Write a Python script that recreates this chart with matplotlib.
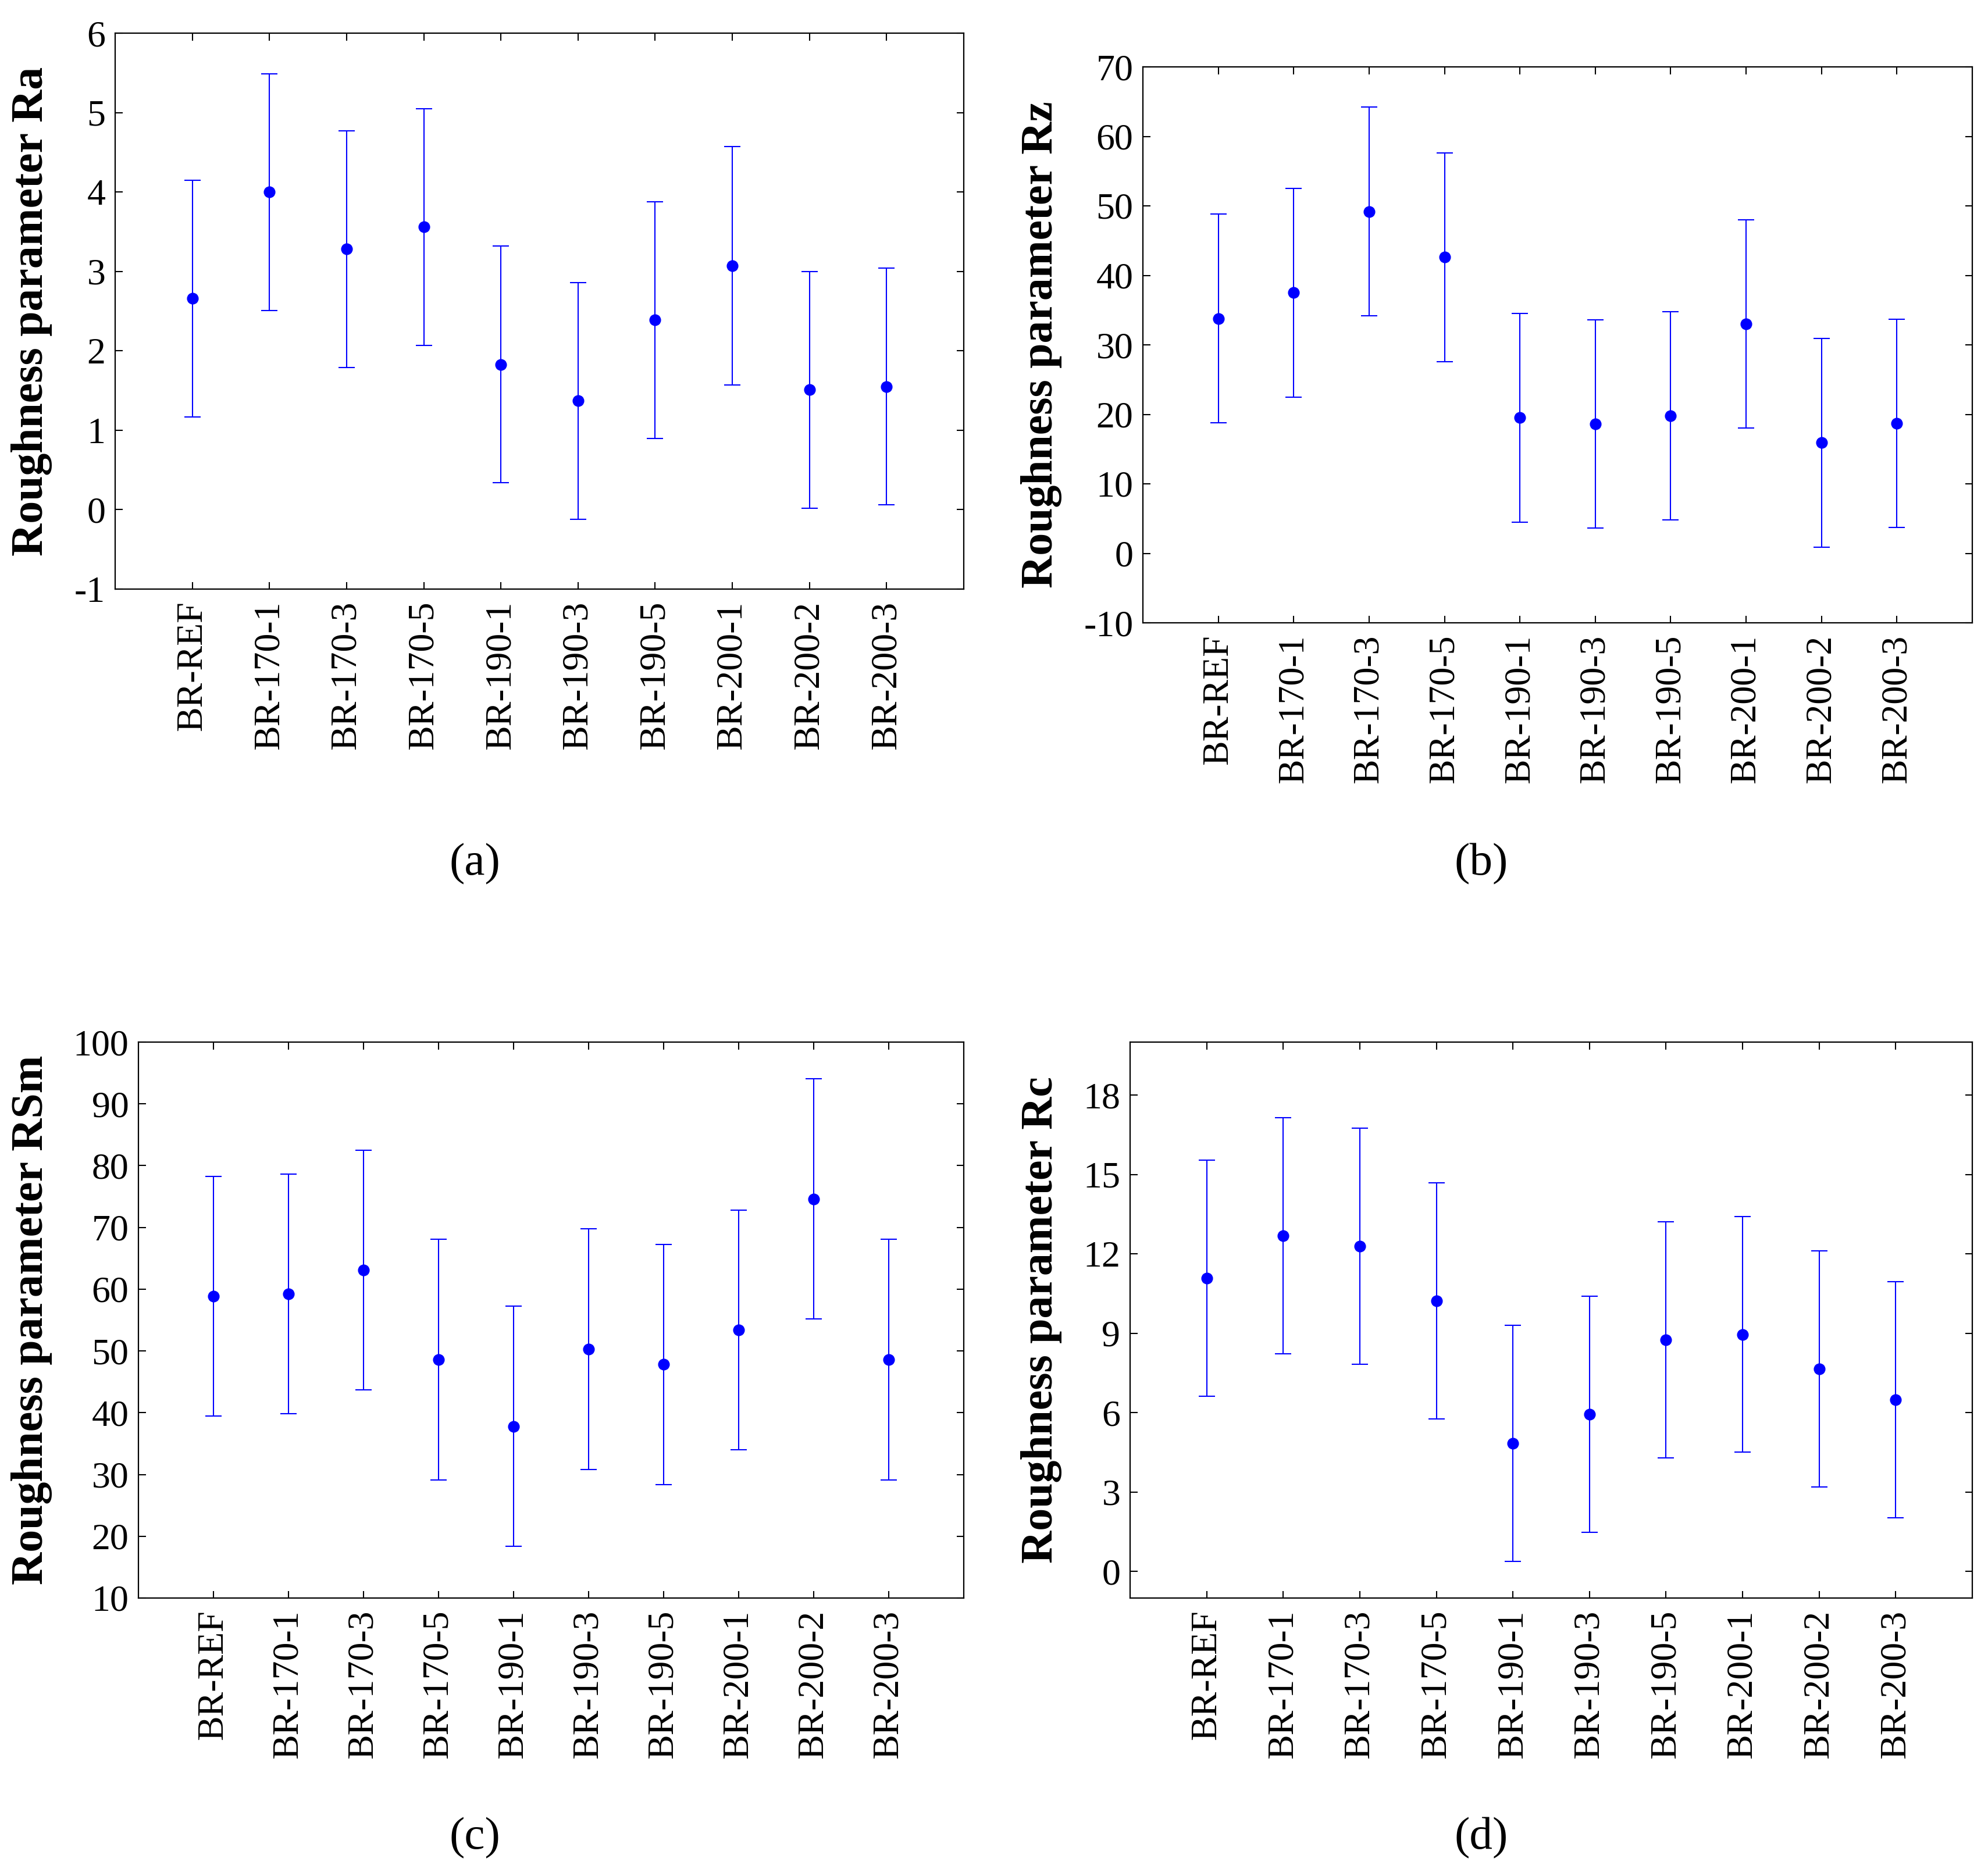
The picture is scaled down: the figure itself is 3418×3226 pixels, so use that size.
import matplotlib
matplotlib.use("Agg")
import matplotlib.pyplot as plt
import numpy as np

plt.rcParams['font.family'] = ['Liberation Serif', 'DejaVu Serif']
plt.rcParams['axes.unicode_minus'] = False

samples = ["BR-REF", "BR-170-1", "BR-170-3", "BR-170-5", "BR-190-1",
           "BR-190-3", "BR-190-5", "BR-200-1", "BR-200-2", "BR-200-3"]

# Ra
ra_mean = [2.66, 4.00, 3.28, 3.56, 1.83, 1.37, 2.39, 3.07, 1.51, 1.55]
ra_err = [1.49, 1.49, 1.49, 1.49, 1.49, 1.49, 1.49, 1.50, 1.49, 1.49]

# Rz
rz_mean = [33.8, 37.5, 49.2, 42.6, 19.5, 18.6, 19.8, 33.0, 15.9, 18.7]
rz_err = [15.0, 15.0, 15.0, 15.0, 15.0, 15.0, 15.0, 15.0, 15.0, 15.0]

# RSm
rsm_mean = [58.9, 59.2, 63.1, 48.6, 37.8, 50.3, 47.8, 53.4, 74.6, 48.6]
rsm_err = [19.4, 19.4, 19.4, 19.45, 19.45, 19.45, 19.45, 19.4, 19.45, 19.45]

# Rc
rc_mean = [11.09, 12.68, 12.29, 10.22, 4.84, 5.95, 8.76, 8.96, 7.65, 6.49]
rc_err = [4.46, 4.46, 4.46, 4.46, 4.46, 4.46, 4.46, 4.45, 4.46, 4.46]

W, H = 3418, 3226
fig = plt.figure(figsize=(W / 100, H / 100), dpi=100)


def panel(box, mean, err, ylim, yticks, ylabel, ylab_x, letter, letter_x, letter_y):
    left, top, right, bottom = box
    ax = fig.add_axes([left / W, 1 - bottom / H, (right - left) / W, (bottom - top) / H])
    x = np.arange(1, len(samples) + 1)
    ax.errorbar(x, mean, yerr=err, fmt='o', color='#0000ff', ecolor='#0000ff',
                markersize=13.5, elinewidth=1.5, capsize=10, capthick=1.5)
    ax.set_xlim(0, len(samples) + 1)
    ax.set_ylim(*ylim)
    ax.set_xticks(x)
    ax.set_xticklabels(samples, rotation=90)
    ax.set_yticks(yticks)
    ax.tick_params(direction='in', top=True, right=True, length=9, width=1.5,
                   labelsize=46)
    ax.tick_params(axis='y', pad=12)
    ax.tick_params(axis='x', pad=15)
    for s in ax.spines.values():
        s.set_linewidth(1.6)
    fig.text(ylab_x / W, 1 - (top + bottom) / 2 / H, ylabel, rotation=90,
             ha='center', va='center', fontsize=56, fontweight='bold')
    fig.text(letter_x / W, 1 - letter_y / H, letter, ha='center', va='center',
             fontsize=57)
    return ax


panel((198, 57, 1657, 1013), ra_mean, ra_err, (-1, 6), range(-1, 7),
      "Roughness parameter Ra", 55, "(a)", 816, 1486)
panel((1965, 115, 3391, 1071), rz_mean, rz_err, (-10, 70), range(-10, 71, 10),
      "Roughness parameter Rz", 1791, "(b)", 2547, 1486)
panel((238, 1792, 1657, 2748), rsm_mean, rsm_err, (10, 100), range(10, 101, 10),
      "Roughness parameter RSm", 55, "(c)", 816, 3161)
panel((1943, 1792, 3391, 2748), rc_mean, rc_err, (-1, 20), range(0, 19, 3),
      "Roughness parameter Rc", 1791, "(d)", 2547, 3161)

fig.savefig("out.png", dpi=100, facecolor='white')
